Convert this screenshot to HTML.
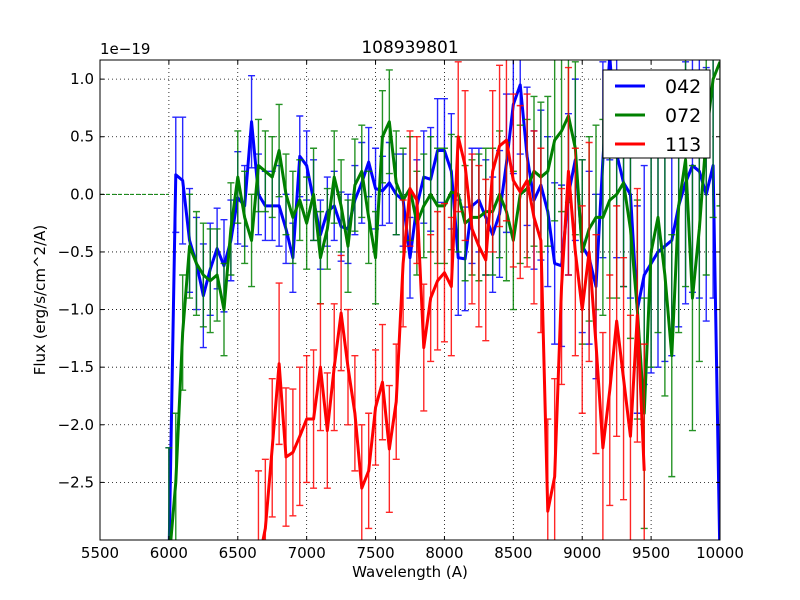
<!DOCTYPE html>
<html><head><meta charset="utf-8"><style>
html,body{margin:0;padding:0;width:800px;height:600px;overflow:hidden;background:#fff}
svg{display:block;font-family:"DejaVu Sans","Liberation Sans",sans-serif}
</style></head><body>
<svg id="chart" width="800" height="600">
<rect width="800" height="600" fill="#fff"/>
<defs><clipPath id="clip"><rect x="100" y="60" width="620" height="480"/></clipPath></defs>
<g id="grid"></g>
<g id="series" clip-path="url(#clip)"></g>
<rect x="100" y="60" width="620" height="480" fill="none" stroke="#000" stroke-width="1"/>
<g id="ticks"></g>
<text x="410" y="53" font-size="17" text-anchor="middle">108939801</text>
<text x="100" y="54" font-size="15">1e−19</text>
<text x="410" y="577" font-size="15" text-anchor="middle">Wavelength (A)</text>
<text x="45" y="300" font-size="15" text-anchor="middle" transform="rotate(-90 45 300)">Flux (erg/s/cm^2/A)</text>
<g>
<rect x="603" y="70" width="107" height="88" fill="#fff" stroke="#000" stroke-width="1"/>
<g><line x1="615" y1="86" x2="645" y2="86" stroke="#0000ff" stroke-width="3"/><text x="665" y="93" font-size="19">042</text></g>
<g><line x1="615" y1="115" x2="645" y2="115" stroke="#008000" stroke-width="3"/><text x="665" y="122" font-size="19">072</text></g>
<g><line x1="615" y1="144" x2="645" y2="144" stroke="#ff0000" stroke-width="3"/><text x="665" y="151" font-size="19">113</text></g>
</g>
</svg>
<script>
const xTicks=[5500,6000,6500,7000,7500,8000,8500,9000,9500,10000];
const yTicks=[1.0,0.5,0.0,-0.5,-1.0,-1.5,-2.0,-2.5];
const yTickLabels=["1.0","0.5","0.0","−0.5","−1.0","−1.5","−2.0","−2.5"];
const waveA=[6000,6050,6100,6150,6200,6250,6300,6350,6400,6450,6500,6550,6600,6650,6700,6750,6800,6850,6900,6950,7000,7050,7100,7150,7200,7250,7300,7350,7400,7450,7500,7550,7600,7650,7700,7750,7800,7850,7900,7950,8000,8050,8100,8150,8200,8250,8300,8350,8400,8450,8500,8550,8600,8650,8700,8750,8800,8850,8900,8950,9000,9050,9100,9150,9200,9250,9300,9350,9400,9450,9500,9550,9600,9650,9700,9750,9800,9850,9900,9950,10000];
const flux042=[-3.2,0.17,0.12,-0.4,-0.6,-0.88,-0.65,-0.47,-0.62,-0.4,-0.03,-0.1,0.63,0.0,-0.1,-0.1,-0.1,-0.3,-0.55,0.33,0.25,-0.05,-0.35,-0.15,-0.1,-0.28,-0.3,-0.05,0.1,0.28,0.05,0.03,0.1,0.0,-0.05,-0.55,-0.1,0.15,0.13,0.38,0.38,0.2,-0.55,-0.56,-0.1,-0.05,-0.2,-0.35,-0.17,0.27,0.78,0.95,0.33,-0.05,0.08,-0.15,-0.6,-0.62,0.0,0.3,-0.45,-0.55,-0.8,0.3,1.2,0.35,0.1,0.0,-1.0,-0.7,-0.6,-0.5,-0.45,-0.4,-0.1,0.1,0.25,0.2,0.0,0.25,-3.2];
const err042=[1.0,0.5,0.55,0.45,0.4,0.45,0.4,0.35,0.4,0.35,0.4,0.35,0.4,0.35,0.3,0.3,0.35,0.3,0.3,0.35,0.3,0.35,0.3,0.3,0.3,0.3,0.3,0.3,0.35,0.3,0.35,0.3,0.35,0.35,0.4,0.35,0.4,0.4,0.45,0.45,0.45,0.5,0.5,0.45,0.5,0.45,0.5,0.5,0.55,0.6,0.6,0.6,0.6,0.6,0.65,0.65,0.7,0.7,0.7,0.7,0.75,0.75,0.8,0.85,0.9,0.9,0.9,0.9,0.9,0.95,0.95,1.0,1.0,1.0,1.05,1.05,1.1,1.1,1.1,1.15,1.2];
const flux072=[-3.2,-2.5,-1.2,-0.45,-0.6,-0.7,-0.75,-0.7,-1.0,-0.3,0.15,-0.2,-0.4,0.25,0.2,0.15,0.38,0.0,-0.2,-0.05,-0.25,0.0,-0.55,-0.3,0.15,-0.1,-0.45,0.08,0.2,-0.2,-0.55,0.5,0.63,0.1,-0.05,0.05,-0.25,-0.1,0.0,-0.1,-0.1,0.02,0.0,-0.25,-0.2,-0.2,-0.15,-0.15,0.0,-0.15,-0.4,0.0,0.05,0.2,0.15,0.2,0.47,0.55,0.68,0.4,-0.5,-0.3,-0.2,-0.2,-0.05,0.0,0.1,-0.3,-1.0,-1.9,-0.5,-0.2,-0.7,-1.4,-0.1,0.3,-0.9,-0.3,0.5,1.0,1.15];
const err072=[1.0,0.6,0.5,0.45,0.45,0.45,0.45,0.4,0.4,0.4,0.4,0.4,0.4,0.4,0.35,0.35,0.4,0.35,0.4,0.35,0.4,0.4,0.4,0.35,0.4,0.4,0.4,0.4,0.4,0.4,0.4,0.4,0.45,0.45,0.45,0.45,0.45,0.45,0.5,0.5,0.5,0.5,0.5,0.5,0.5,0.55,0.55,0.55,0.55,0.6,0.6,0.6,0.6,0.65,0.65,0.65,0.7,0.7,0.75,0.75,0.8,0.8,0.8,0.85,0.85,0.9,0.9,0.95,0.95,1.0,1.0,1.0,1.05,1.05,1.1,1.1,1.15,1.15,1.2,1.2,1.25];
const waveB=[6650,6700,6750,6800,6850,6900,6950,7000,7050,7100,7150,7200,7250,7300,7350,7400,7450,7500,7550,7600,7650,7700,7750,7800,7850,7900,7950,8000,8050,8100,8150,8200,8250,8300,8350,8400,8450,8500,8550,8600,8650,8700,8750,8800,8850,8900,8950,9000,9050,9100,9150,9200,9250,9300,9350,9400,9450];
const flux113=[-3.2,-2.9,-2.2,-1.47,-2.28,-2.24,-2.1,-1.95,-1.95,-1.5,-2.05,-1.5,-1.03,-1.5,-1.9,-2.55,-2.4,-1.85,-1.63,-2.21,-1.8,-0.6,0.05,-0.05,-1.33,-0.9,-0.75,-0.68,-0.8,0.5,0.25,-0.3,-0.45,-0.57,0.2,0.42,0.47,0.12,0.02,0.12,-0.2,-0.4,-2.75,-2.45,-0.8,0.2,-0.5,-1.0,-0.5,-1.3,-2.2,-1.7,-1.1,-1.6,-2.1,-1.05,-2.4];
const err113=[0.8,0.6,0.6,0.7,0.6,0.55,0.6,0.55,0.6,0.55,0.5,0.55,0.5,0.5,0.5,0.55,0.5,0.5,0.5,0.55,0.5,0.55,0.5,0.55,0.55,0.55,0.6,0.6,0.6,0.65,0.65,0.65,0.7,0.7,0.7,0.7,0.7,0.75,0.75,0.75,0.75,0.8,0.8,0.85,0.85,0.9,0.9,0.9,0.95,0.95,1.0,1.0,1.0,1.05,1.05,1.1,1.1];

const NS='http://www.w3.org/2000/svg';
const X0=100,X1=720,Y0=60,Y1=540;
const xMin=5500,xMax=10000,yMin=-3.0,yMax=1.166;
function xs(v){return X0+(v-xMin)/(xMax-xMin)*(X1-X0);}
function ys(v){return Y1-(v-yMin)/(yMax-yMin)*(Y1-Y0);}
function mk(tag,attrs,parent){const e=document.createElementNS(NS,tag);for(const k in attrs)e.setAttribute(k,attrs[k]);parent.appendChild(e);return e;}
const grid=document.getElementById('grid'),ticks=document.getElementById('ticks'),ser=document.getElementById('series');
xTicks.forEach((t,i)=>{
  const x=xs(t);
  const g=mk('line',{x1:x,y1:Y0,x2:x,y2:Y1,stroke:'#000','stroke-width':0.8,'stroke-dasharray':'1,3'},grid);
  
  
  mk('line',{x1:x,y1:Y1,x2:x,y2:Y1-4,stroke:'#000'},ticks);
  mk('line',{x1:x,y1:Y0,x2:x,y2:Y0+4,stroke:'#000'},ticks);
  const tx=mk('text',{x:x,y:Y1+18,'font-size':15,'text-anchor':'middle'},ticks);
  tx.textContent=t;
  
  
});
yTicks.forEach((t,i)=>{
  const y=ys(t);
  const g=mk('line',{x1:X0,y1:y,x2:X1,y2:y,stroke:'#000','stroke-width':0.8,'stroke-dasharray':'1,3'},grid);
  
  
  mk('line',{x1:X0,y1:y,x2:X0+4,y2:y,stroke:'#000'},ticks);
  mk('line',{x1:X1,y1:y,x2:X1-4,y2:y,stroke:'#000'},ticks);
  const tx=mk('text',{x:X0-6,y:y+5,'font-size':15,'text-anchor':'end'},ticks);
  tx.textContent=yTickLabels[i];
  
  
});
const zl=mk('line',{x1:X0,y1:ys(0),x2:xs(6000),y2:ys(0),stroke:'#008000','stroke-width':1,'stroke-dasharray':'4,2'},ser);


function drawSeries(wl,fl,er,col,name){
  const g=mk('g',{},ser);
  
  
  for(let i=0;i<wl.length;i++){
    const x=xs(wl[i]),ya=ys(fl[i]+er[i]),yb=ys(fl[i]-er[i]);
    const eb=mk('path',{d:`M${x},${ya}V${yb}M${x-3.5},${ya}H${x+3.5}M${x-3.5},${yb}H${x+3.5}`,stroke:col,'stroke-width':1.4,'stroke-opacity':0.85,fill:'none'},g);
    
    
  }
  const pts=wl.map((w,i)=>xs(w)+','+ys(fl[i])).join(' ');
  const pl=mk('polyline',{points:pts,fill:'none',stroke:col,'stroke-width':3,'stroke-linejoin':'round'},g);
  
  
}
drawSeries(waveA,flux042,err042,'#0000ff','042');
drawSeries(waveA,flux072,err072,'#008000','072');
drawSeries(waveB,flux113,err113,'#ff0000','113');
</script>
</body></html>
